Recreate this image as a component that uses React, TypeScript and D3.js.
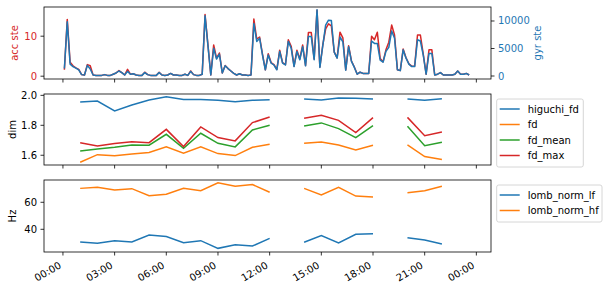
import React from "react";
import * as d3 from "d3";

// 10-minute samples, first one at 00:05
const accSte = [
  1.6, 14.2, 3.5, 2.6, 2.1, 1.7, 0.4, 0.3, 2.9, 2.6,
  0.3, 0.2, 0.2, 0.2, 0.4, 0.2, 0.2, 0.5, 0.8, 1.4,
  0.9, 0.3, 1.7, 0.5, 0.6, 0.3, 0.2, 0.2, 1.0, 0.4,
  0.2, 0.2, 0.2, 1.0, 0.3, 0.2, 0.3, 0.7, 0.3, 0.3,
  0.2, 0.2, 0.5, 0.2, 1.3, 0.4, 0.2, 0.2, 0.5, 15.4,
  7.9, 0.3, 7.8, 4.5, 5.8, 0.8, 2.7, 1.9, 1.3, 0.7,
  0.3, 0.6, 0.3, 0.3, 0.2, 0.3, 14.3, 9.3, 9.8, 5.5,
  1.6, 5.6, 3.4, 2.9, 1.7, 6.5, 3.4, 2.9, 9.1, 7.5,
  2.5, 6.5, 4.3, 7.8, 2.7, 10.9, 10.9, 4.3, 16.5, 2.3,
  7.8, 11.8, 13.1, 12.6, 6.0, 4.6, 11.0, 9.6, 1.6, 7.6,
  3.8, 2.3, 0.5, 1.0, 0.7, 0.7, 0.7, 10.0, 9.1, 11.0,
  4.4, 3.6, 6.6, 8.5, 12.8, 10.3, 1.6, 1.4, 6.8, 4.6,
  3.1, 2.5, 2.5, 10.3, 10.3, 5.5, 0.5, 6.6, 6.6, 0.3,
  0.5, 0.9, 0.3, 0.3, 0.3, 0.3, 0.5, 1.3, 0.5, 0.5,
  0.7, 0.3,
];

const gyrSte = [
  1350, 9850, 2150, 1710, 1420, 1130, 250, 180, 1930, 1270,
  180, 110, 110, 110, 250, 110, 110, 330, 550, 910,
  620, 180, 840, 330, 400, 180, 110, 110, 620, 250,
  110, 110, 110, 620, 180, 110, 180, 470, 180, 180,
  110, 110, 330, 110, 840, 250, 110, 110, 330, 10940,
  5560, 180, 5050, 3090, 3960, 550, 1850, 1350, 910, 470,
  180, 400, 180, 180, 110, 180, 9560, 6290, 6870, 3820,
  1130, 3820, 2360, 2000, 1130, 4470, 2360, 2000, 6290, 5050,
  1710, 4470, 2950, 5340, 1850, 7160, 7160, 2950, 12030, 1560,
  5490, 9270, 10140, 10070, 4330, 3240, 7090, 6220, 1060, 5340,
  2650, 1560, 330, 690, 470, 470, 470, 6360, 5930, 5930,
  2870, 2510, 4470, 5200, 8180, 6870, 1130, 980, 4760, 3240,
  2150, 1710, 1710, 6580, 6360, 3820, 330, 4110, 4110, 180,
  330, 620, 180, 180, 180, 180, 330, 910, 330, 330,
  470, 180,
];

// hourly features (null = missing hour)
const hours = [1, 2, 3, 4, 5, 6, 7, 8, 9, 10, 11, 12, 13, 14, 15, 16, 17, 18, 19, 20, 21, 22];
const higuchiFd = [1.956, 1.962, 1.896, 1.936, 1.969, 1.991, 1.973, 1.973, 1.967, 1.958, 1.967, 1.971, null, 1.976, 1.969, 1.982, 1.98, 1.976, null, 1.976, 1.967, 1.978];
const fd = [1.553, 1.604, 1.596, 1.609, 1.618, 1.656, 1.613, 1.656, 1.611, 1.598, 1.653, 1.673, null, 1.68, 1.689, 1.669, 1.636, 1.667, null, 1.669, 1.591, 1.571];
const fdMean = [1.629, 1.642, 1.653, 1.669, 1.667, 1.74, 1.647, 1.747, 1.68, 1.656, 1.769, 1.8, null, 1.796, 1.816, 1.778, 1.718, 1.798, null, 1.793, 1.664, 1.687];
const fdMax = [1.684, 1.662, 1.678, 1.691, 1.684, 1.773, 1.658, 1.789, 1.718, 1.696, 1.818, 1.856, null, 1.847, 1.867, 1.833, 1.751, 1.851, null, 1.853, 1.731, 1.756];
const lombNormLf = [30.6, 29.6, 31.6, 30.6, 35.8, 34.6, 30.1, 31.6, 25.9, 28.6, 27.6, 33.3, null, 30.4, 35.3, 29.9, 36.3, 36.8, null, 33.8, 32.1, 29.1];
const lombNormHf = [70.3, 71.1, 69.1, 70.1, 64.9, 65.9, 70.3, 68.6, 74.5, 71.8, 73.1, 67.4, null, 70.3, 65.4, 71.1, 64.6, 63.9, null, 67.1, 68.6, 71.8];

const accTicks = [0, 10];
const gyrTicks = [0, 5000, 10000];
const dimTicks = [1.6, 1.8, 2.0];
const hzTicks = [40, 60];

const C = { blue: "#1f77b4", orange: "#ff7f0e", green: "#2ca02c", red: "#d62728" };
const FONT = "DejaVu Sans, sans-serif";

const base = new Date(2021, 0, 1, 0, 0);
const minutes = (m: number) => new Date(base.getTime() + m * 60000);

const left = 44, right = 491;
const x = d3.scaleTime().domain([minutes(-66), minutes(24 * 60 + 51)]).range([left, right]);
const xTicks = d3.range(0, 25, 3).map((h) => minutes(h * 60));
const fmt = d3.timeFormat("%H:%M");

const p1 = { top: 7, bottom: 79 };
const p2 = { top: 94, bottom: 165 };
const p3 = { top: 180, bottom: 252 };

const yAcc = d3.scaleLinear().domain([-0.7, 17.3]).range([p1.bottom, p1.top]);
const yGyr = d3.scaleLinear().domain([-545, 12545]).range([p1.bottom, p1.top]);
const yDim = d3.scaleLinear().domain([1.535, 2.009]).range([p2.bottom, p2.top]);
const yHz = d3.scaleLinear().domain([23.2, 76.5]).range([p3.bottom, p3.top]);

const sampleTime = (i: number) => minutes(5 + i * 10);

function seriesPath(vals: number[], y: d3.ScaleLinear<number, number>) {
  return d3.line<number>().x((_, i) => x(sampleTime(i))).y((d) => y(d))(vals) || "";
}

function hourlyPath(vals: (number | null)[], y: d3.ScaleLinear<number, number>) {
  return (
    d3
      .line<number | null>()
      .defined((d) => d !== null)
      .x((_, i) => x(minutes(hours[i] * 60)))
      .y((d) => y(d as number))(vals) || ""
  );
}

function Frame({ p }: { p: { top: number; bottom: number } }) {
  return (
    <g>
      <rect x={left} y={p.top} width={right - left} height={p.bottom - p.top} fill="none" stroke="#000" strokeWidth={0.8} />
      {xTicks.map((t, i) => (
        <line key={i} x1={x(t)} x2={x(t)} y1={p.bottom} y2={p.bottom + 3.5} stroke="#000" strokeWidth={0.8} />
      ))}
    </g>
  );
}

function LeftAxis({ y, ticks, fmtTick, color }: { y: d3.ScaleLinear<number, number>; ticks: number[]; fmtTick: (v: number) => string; color: string }) {
  return (
    <g>
      {ticks.map((t) => (
        <g key={t}>
          <line x1={left - 3.5} x2={left} y1={y(t)} y2={y(t)} stroke="#000" strokeWidth={0.8} />
          <text x={left - 7} y={y(t)} dy="0.35em" textAnchor="end" fontSize={10} fill={color} fontFamily={FONT}>
            {fmtTick(t)}
          </text>
        </g>
      ))}
    </g>
  );
}

function Legend({ top, width, items }: { top: number; width: number; items: { label: string; color: string }[] }) {
  const x0 = 496.7;
  const rowH = 15.5;
  const h = items.length * rowH + 6;
  return (
    <g>
      <rect x={x0} y={top} width={width} height={h} rx={2} fill="#fff" fillOpacity={0.8} stroke="#cccccc" strokeWidth={0.8} />
      {items.map((it, i) => {
        const cy = top + 10 + i * rowH;
        return (
          <g key={it.label}>
            <line x1={x0 + 3} x2={x0 + 23} y1={cy} y2={cy} stroke={it.color} strokeWidth={1.5} />
            <text x={x0 + 31} y={cy} dy="0.35em" fontSize={10} fontFamily={FONT} fill="#000">
              {it.label}
            </text>
          </g>
        );
      })}
    </g>
  );
}

export default function App() {
  const mid1 = (p1.top + p1.bottom) / 2;
  const mid2 = (p2.top + p2.bottom) / 2;
  const mid3 = (p3.top + p3.bottom) / 2;
  return (
    <svg width={609} height={289} style={{ position: "absolute", left: 0, top: 0, background: "#fff" }}>
      {/* panel 1: step counts */}
      <path d={seriesPath(accSte, yAcc)} fill="none" stroke={C.red} strokeWidth={1.5} strokeLinejoin="round" />
      <path d={seriesPath(gyrSte, yGyr)} fill="none" stroke={C.blue} strokeWidth={1.5} strokeLinejoin="round" />
      <Frame p={p1} />
      <LeftAxis y={yAcc} ticks={accTicks} fmtTick={(v) => String(v)} color={C.red} />
      {gyrTicks.map((t) => (
        <g key={t}>
          <line x1={right} x2={right + 3.5} y1={yGyr(t)} y2={yGyr(t)} stroke="#000" strokeWidth={0.8} />
          <text x={right + 7} y={yGyr(t)} dy="0.35em" fontSize={10} fill={C.blue} fontFamily={FONT}>
            {t}
          </text>
        </g>
      ))}
      <text transform={`translate(14,${mid1}) rotate(-90)`} textAnchor="middle" dy="0.35em" fontSize={10} fill={C.red} fontFamily={FONT}>
        acc ste
      </text>
      <text transform={`translate(537,${mid1}) rotate(-90)`} textAnchor="middle" dy="0.35em" fontSize={10} fill={C.blue} fontFamily={FONT}>
        gyr ste
      </text>

      {/* panel 2: fractal dims */}
      <path d={hourlyPath(higuchiFd, yDim)} fill="none" stroke={C.blue} strokeWidth={1.5} />
      <path d={hourlyPath(fd, yDim)} fill="none" stroke={C.orange} strokeWidth={1.5} />
      <path d={hourlyPath(fdMean, yDim)} fill="none" stroke={C.green} strokeWidth={1.5} />
      <path d={hourlyPath(fdMax, yDim)} fill="none" stroke={C.red} strokeWidth={1.5} />
      <Frame p={p2} />
      <LeftAxis y={yDim} ticks={dimTicks} fmtTick={(v) => v.toFixed(1)} color="#000" />
      <text transform={`translate(12,${mid2}) rotate(-90)`} textAnchor="middle" dy="0.35em" fontSize={10} fill="#000" fontFamily={FONT}>
        dim
      </text>
      <Legend
        top={p2.top + 5}
        width={86.6}
        items={[
          { label: "higuchi_fd", color: C.blue },
          { label: "fd", color: C.orange },
          { label: "fd_mean", color: C.green },
          { label: "fd_max", color: C.red },
        ]}
      />

      {/* panel 3: lomb */}
      <path d={hourlyPath(lombNormLf, yHz)} fill="none" stroke={C.blue} strokeWidth={1.5} />
      <path d={hourlyPath(lombNormHf, yHz)} fill="none" stroke={C.orange} strokeWidth={1.5} />
      <Frame p={p3} />
      <LeftAxis y={yHz} ticks={hzTicks} fmtTick={(v) => String(v)} color="#000" />
      <text transform={`translate(12,${mid3}) rotate(-90)`} textAnchor="middle" dy="0.35em" fontSize={10} fill="#000" fontFamily={FONT}>
        Hz
      </text>
      <Legend
        top={p3.top + 5}
        width={105.3}
        items={[
          { label: "lomb_norm_lf", color: C.blue },
          { label: "lomb_norm_hf", color: C.orange },
        ]}
      />

      {/* date labels */}
      {xTicks.map((t, i) => (
        <text
          key={i}
          transform={`translate(${x(t)},${p3.bottom + 7 + 10}) rotate(-30)`}
          textAnchor="end"
          dy="-0.2em"
          fontSize={10}
          fontFamily={FONT}
          fill="#000"
        >
          {fmt(t)}
        </text>
      ))}
    </svg>
  );
}
